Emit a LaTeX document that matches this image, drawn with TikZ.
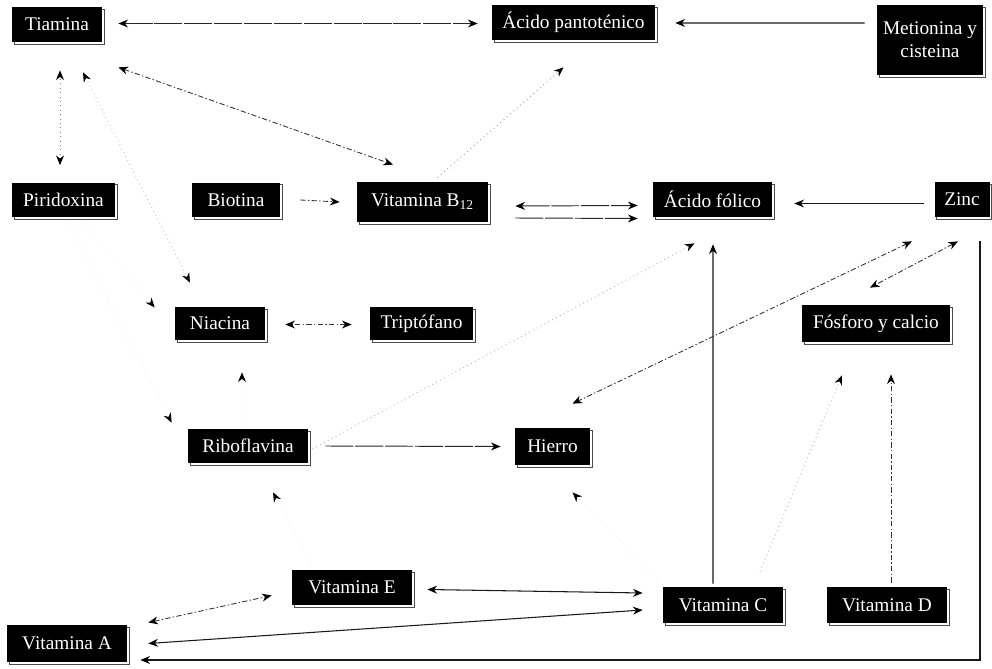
\documentclass[tikz,border=0pt]{standalone}
\usepackage{fontspec}
\setmainfont{Liberation Serif}
\usetikzlibrary{arrows.meta,calc,shadows}
\begin{document}
\begin{tikzpicture}[x=0.02cm,y=-0.02cm,
  >={Stealth[length=5.5pt,width=4.5pt,color=black]},
  box/.style={fill=black,text=white,inner sep=0pt,minimum height=0.7cm,
    font=\fontsize{11}{13}\selectfont,align=center,
    drop shadow={shadow xshift=1.2pt,shadow yshift=-1.2pt,fill=none,draw=black!70,line width=0.45pt,opacity=1}},
  bw/.style={minimum width=#1*0.02cm},
  bh/.style={minimum height=#1*0.02cm},
  lnA/.style={draw=black!85,line width=0.55pt,dash pattern=on 16pt off 1pt},
  lnB/.style={draw=black!80,line width=0.5pt,dash pattern=on 3pt off 1.3pt on 0.8pt off 1.3pt},
  lnS/.style={draw=black!90,line width=0.6pt},
  lnC/.style={draw=black!40,line width=0.5pt,dotted},
  lnG/.style={draw=black!7,line width=0.5pt,dotted}]
\useasboundingbox (0,0) rectangle (992,669);
% nodes
\node[box,bw=90]  (tia) at (57,24.5)   {Tiamina};
\node[box,bw=163] (pan) at (573.5,22.5) {Ácido pantoténico};
\node[box,bw=106,bh=70] (met) at (930,40) {Metionina y\\cisteina};
\node[box,bw=103] (pir) at (63.5,200)  {Piridoxina};
\node[box,bw=88]  (bio) at (236,200)   {Biotina};
\node[box,bw=131,bh=40] (b12) at (422.5,202) {Vitamina B\textsubscript{12}};
\node[box,bw=119] (fol) at (712.5,199.5) {Ácido fólico};
\node[box,bw=55]  (zin) at (962,199.5) {Zinc};
\node[box,bw=90,bh=33]  (nia) at (220,323.5) {Niacina};
\node[box,bw=103,bh=33] (tri) at (421.5,323.5) {Triptófano};
\node[box,bw=148,bh=37] (fos) at (876,323.5) {Fósforo y calcio};
\node[box,bw=120,bh=34] (rib) at (248,446) {Riboflavina};
\node[box,bw=75,bh=37]  (hie) at (552.5,446.5) {Hierro};
\node[box,bw=120] (vE) at (352,587.5) {Vitamina E};
\node[box,bw=120,bh=36] (vC) at (723,605) {Vitamina C};
\node[box,bw=120,bh=36] (vD) at (887,605) {Vitamina D};
\node[box,bw=120,bh=37] (vA) at (67,643.5) {Vitamina A};
% connectors
\draw[lnA,<->] ($(tia.east)+(16,-1)$) -- ($(pan.west)+(-14,1)$);
\draw[lnS,->] ($(met.west)+(-12,-17)$) -- ($(pan.east)+(20,0.5)$);
\draw[lnC,draw=black!50,<->] ($(pir.north)+(-3.5,-17)$) -- ($(tia.south)+(3,28)$);
\draw[lnC,draw=black!25,<->] ($(tia.south)+(26,30)$) -- ($(nia.north)+(-30,-24)$);
\draw[lnB,<->] ($(tia.south east)+(16,25)$) -- ($(b12.north)+(-29.5,-17)$);
\draw[lnC,->] ($(b12.north)+(15,-4)$) -- ($(pan.south)+(-10,27)$);
\draw[lnB,->] ($(bio.east)+(20,0)$) -- ($(b12.west)+(-17,0)$);
\draw[lnA,<->] ($(b12.east)+(27,4)$) -- ($(fol.west)+(-15,6)$);
\draw[lnA,->] ($(b12.east)+(27,16)$) -- ($(fol.west)+(-15,19)$);
\draw[lnS,->] ($(zin.west)+(-10,4)$) -- ($(fol.east)+(22,4)$);
\draw[lnB,<->] ($(tri.west)+(-18,1)$) -- ($(nia.east)+(20,1)$);
\draw[lnC,draw=black!30,->] ($(rib.east)+(4,3)$) -- ($(fol.south)+(-18,26)$);
\draw[lnS,->] ($(vC.north)+(-10,-3)$) -- ($(fol.south)+(0.5,27)$);
\draw[lnB,<->] ($(zin.south)+(-50,24)$) -- ($(hie.north)+(20,-24)$);
\draw[lnB,<->] ($(zin.south)+(-4,24)$) -- ($(fos.north)+(-6,-17)$);
\draw[lnC,draw=black!30,->] ($(vC.north)+(37,-15)$) -- ($(fos.south)+(-34,33)$);
\draw[lnB,->] ($(vD.north)+(4,-4)$) -- ($(fos.south)+(15,32)$);
\draw[lnS,->] ($(zin.south)+(18,24)$) |- ($(vA.east)+(13,16.5)$);
\draw[lnS,<->] ($(vC.west)+(-20,5)$) -- ($(vA.east)+(21,0)$);
\draw[lnS,<->] ($(vC.west)+(-20,-12)$) -- ($(vE.east)+(15,2)$);
\draw[lnB,<->] ($(vA.east)+(21,-21)$) -- ($(vE.west)+(-20,8)$);
\draw[lnA,->] ($(rib.east)+(17,0)$) -- ($(hie.west)+(-14,0)$);
% barely visible connectors
\draw[lnG,->] ($(pir.south)+(20,5)$) -- ($(nia.west)+(-20,-16)$);
\draw[lnG,->] ($(pir.south)+(5,5)$) -- ($(rib.north west)+(-16,-6)$);
\draw[lnG,->] ($(rib.north)+(-6,-4)$) -- ($(nia.south)+(22,32)$);
\draw[lnG,->] ($(vE.north)+(-40,-3)$) -- ($(rib.south)+(25,29)$);
\draw[lnG,->] ($(vC.north west)+(0,-2)$) -- ($(hie.south)+(20,27)$);
\end{tikzpicture}
\end{document}
